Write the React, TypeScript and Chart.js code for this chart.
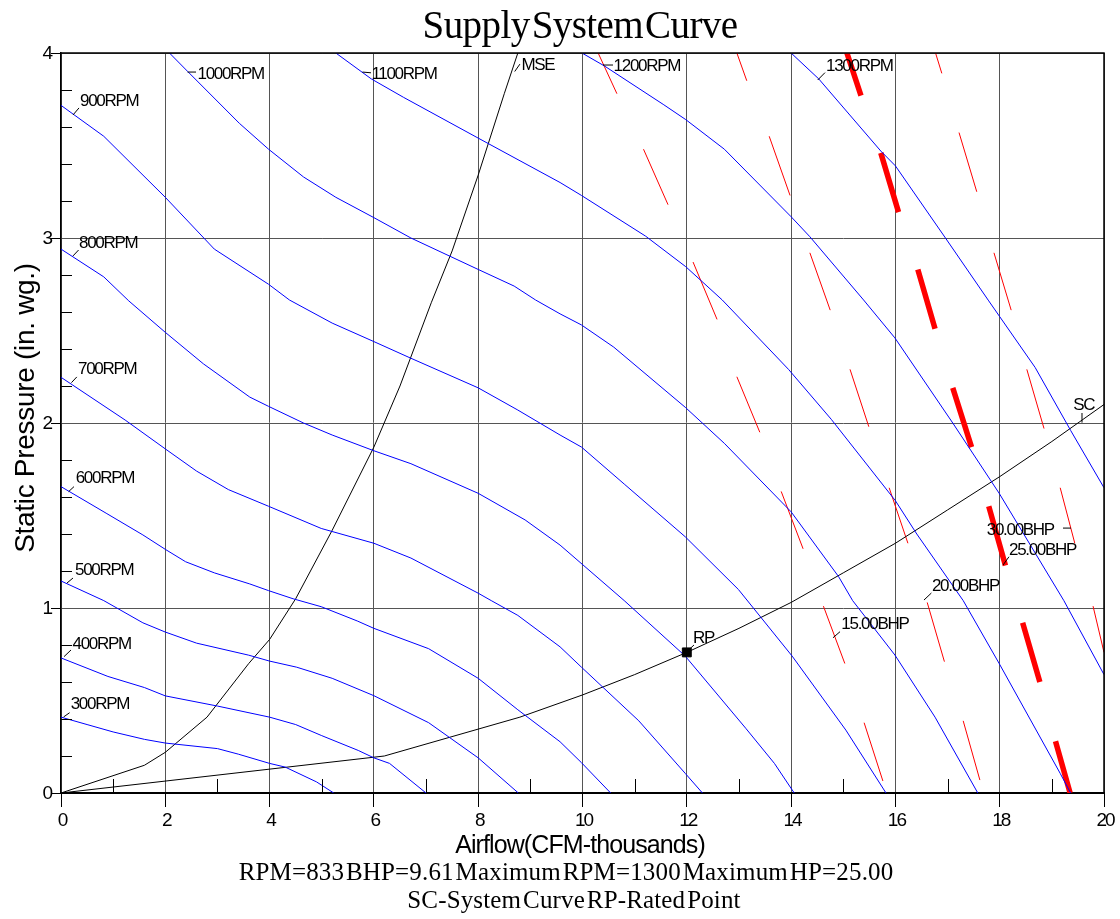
import React, { useEffect, useRef } from 'react';
import { Chart, registerables } from 'chart.js';

Chart.register(...registerables);

type Pt = [number, number];

// ---- axes / ticks ----
const xTickValues = [0, 2, 4, 6, 8, 10, 12, 14, 16, 18, 20];
const xTickLabels = ['0', '2', '4', '6', '8', '10', '12', '14', '16', '18', '20'];
const yTickValues = [0, 1, 2, 3, 4];
const yTickLabels = ['0', '1', '2', '3', '4'];
const xMinorTicks = [1, 3, 5, 7, 9, 11, 13, 15, 17, 19];
const yMinorTicks = [0.2, 0.4, 0.6, 0.8, 1.2, 1.4, 1.6, 1.8, 2.2, 2.4, 2.6, 2.8, 3.2, 3.4, 3.6, 3.8];

// ---- fan curves (Airflow CFM-thousands, Static Pressure in. wg.) ----
const rpm300: Pt[] = [[0, 0.41], [0.5, 0.37], [1, 0.33], [1.6, 0.29], [2, 0.27], [3, 0.24], [3.4, 0.21], [4, 0.16], [4.3, 0.14], [4.9, 0.06], [5.23, 0]];
const rpm400: Pt[] = [[0, 0.73], [0.9, 0.63], [1.6, 0.57], [2, 0.525], [3, 0.47], [4, 0.41], [4.5, 0.37], [5, 0.31], [5.7, 0.23], [6, 0.19], [6.3, 0.16], [7, 0]];
const rpm500: Pt[] = [[0, 1.146], [0.82, 1.04], [1.57, 0.92], [2, 0.87], [2.6, 0.81], [3.6, 0.745], [4, 0.713], [4.52, 0.68], [5.2, 0.62], [6, 0.526], [7.05, 0.38], [8, 0.19], [8.77, 0]];
const rpm600: Pt[] = [[0, 1.656], [0.88, 1.51], [1.57, 1.395], [2, 1.317], [2.39, 1.25], [2.94, 1.19], [3.62, 1.13], [3.98, 1.094], [4.45, 1.05], [4.99, 1.007], [5.68, 0.93], [6, 0.89], [7.05, 0.78], [8, 0.62], [8.76, 0.45], [9.57, 0.277], [9.98, 0.164], [10.54, 0]];
const rpm700: Pt[] = [[0, 2.247], [1.23, 2.016], [2, 1.86], [2.6, 1.74], [3.21, 1.64], [3.98, 1.55], [4.99, 1.43], [6, 1.35], [6.71, 1.27], [8, 1.08], [8.25, 1.04], [8.76, 0.96], [9.57, 0.79], [9.98, 0.68], [11.08, 0.39], [11.97, 0.106], [12.3, 0]];
const rpm800: Pt[] = [[0, 2.94], [0.82, 2.79], [1.3, 2.66], [2, 2.49], [2.73, 2.32], [3.62, 2.14], [3.98, 2.09], [4.65, 2.0], [5.2, 1.935], [6, 1.85], [6.71, 1.78], [8, 1.62], [8.9, 1.476], [9.57, 1.34], [10.8, 1.04], [11.97, 0.74], [13.13, 0.35], [13.68, 0.16], [14.06, 0]];
const rpm900: Pt[] = [[0, 3.717], [0.82, 3.55], [2, 3.22], [2.94, 2.94], [3.98, 2.75], [4.38, 2.665], [5.2, 2.54], [6, 2.44], [6.71, 2.35], [8, 2.19], [8.76, 2.07], [9.57, 1.935], [9.98, 1.87], [10.8, 1.67], [11.97, 1.385], [12.99, 1.1], [14.02, 0.74], [15.05, 0.34], [15.82, 0]];
const rpm1000: Pt[] = [[2.08, 4.0], [2.43, 3.9], [3.42, 3.62], [3.98, 3.48], [4.65, 3.33], [5.27, 3.22], [6, 3.11], [6.71, 3.0], [8, 2.83], [8.69, 2.74], [9.1, 2.665], [9.57, 2.59], [9.98, 2.53], [10.6, 2.41], [11.97, 2.085], [12.72, 1.89], [14, 1.52], [14.91, 1.17], [15.18, 1.04], [15.99, 0.746], [16.76, 0.41], [17.58, 0]];
const rpm1100: Pt[] = [[5.27, 4.0], [5.95, 3.86], [6.57, 3.76], [8, 3.54], [9.57, 3.3], [9.98, 3.23], [11.21, 3.01], [11.98, 2.845], [12.68, 2.665], [13.95, 2.29], [14.77, 2.02], [16, 1.58], [16.41, 1.4], [17.3, 1.04], [17.99, 0.7], [19.16, 0.106], [19.36, 0]];
const rpm1200: Pt[] = [[9.99, 4.0], [10.42, 3.93], [11.56, 3.72], [11.98, 3.64], [12.72, 3.48], [14, 3.115], [14.36, 3.007], [15.39, 2.665], [15.99, 2.46], [17.1, 2.0], [17.99, 1.62], [19.23, 1.04], [20, 0.64]];
const rpm1300: Pt[] = [[14.0, 4.0], [14.53, 3.86], [15.72, 3.47], [16, 3.39], [16.96, 3.0], [17.79, 2.66], [18.0, 2.575], [18.68, 2.3], [19.36, 1.96], [20, 1.65]];
const fanCurves: Pt[][] = [rpm300, rpm400, rpm500, rpm600, rpm700, rpm800, rpm900, rpm1000, rpm1100, rpm1200, rpm1300];

// ---- system curve and max static efficiency ----
const systemCurve: Pt[] = [[0, 0], [6.2, 0.2], [8.8, 0.41], [10, 0.53], [11, 0.64], [12, 0.76], [13, 0.89], [14, 1.03], [15, 1.19], [16, 1.35], [17, 1.53], [18, 1.71], [19, 1.9], [20, 2.1]];
const mseCurve: Pt[] = [[0, 0], [1.6, 0.15], [2, 0.22], [2.8, 0.41], [3.6, 0.7], [4, 0.83], [4.5, 1.05], [5.2, 1.42], [6, 1.87], [6.5, 2.2], [7.1, 2.65], [7.5, 2.93], [8, 3.34], [8.5, 3.78], [8.76, 4.0]];
const ratedPoint: Pt = [12, 0.76];

// ---- brake horsepower lines (visible dash pieces) ----
const bhp15: Pt[][] = [[[10.3, 4.0], [10.66, 3.78]], [[11.17, 3.48], [11.64, 3.18]], [[12.12, 2.87], [12.58, 2.56]], [[12.96, 2.25], [13.4, 1.95]], [[13.81, 1.63], [14.23, 1.32]], [[14.62, 1.01], [15.03, 0.7]], [[15.4, 0.38], [15.76, 0.065]]];
const bhp20: Pt[][] = [[[12.96, 4.0], [13.15, 3.85]], [[13.58, 3.55], [13.98, 3.23]], [[14.36, 2.92], [14.75, 2.61]], [[15.13, 2.29], [15.49, 1.98]], [[15.88, 1.65], [16.24, 1.35]], [[16.61, 1.03], [16.94, 0.71]], [[17.3, 0.39], [17.62, 0.07]]];
const bhp25: Pt[][] = [[[15.07, 4.0], [15.34, 3.77]], [[15.72, 3.46], [16.06, 3.14]], [[16.43, 2.83], [16.76, 2.51]], [[17.1, 2.19], [17.46, 1.87]], [[17.79, 1.55], [18.11, 1.23]], [[18.44, 0.92], [18.77, 0.6]], [[19.07, 0.28], [19.35, 0.0]]];
const bhp30: Pt[][] = [[[16.77, 4.0], [16.89, 3.89]], [[17.22, 3.57], [17.56, 3.25]], [[17.89, 2.92], [18.22, 2.61]], [[18.52, 2.29], [18.85, 1.97]], [[19.16, 1.65], [19.44, 1.35]], [[19.79, 1.01], [20.0, 0.76]]];

// ---- callout labels: anchor on mark, leader end, text start (data units) ----
type Callout = { text: string; anchor: Pt; elbow: Pt; at: Pt };
const callouts: Callout[] = [
  { text: '900RPM', anchor: [0.23, 3.665], elbow: [0.345, 3.703], at: [0.364, 3.741] },
  { text: '800RPM', anchor: [0.23, 2.903], elbow: [0.337, 2.935], at: [0.345, 2.973] },
  { text: '700RPM', anchor: [0.2, 2.218], elbow: [0.303, 2.249], at: [0.326, 2.292] },
  { text: '600RPM', anchor: [0.146, 1.629], elbow: [0.249, 1.656], at: [0.282, 1.703] },
  { text: '500RPM', anchor: [0.115, 1.135], elbow: [0.23, 1.162], at: [0.268, 1.205] },
  { text: '400RPM', anchor: [0.058, 0.737], elbow: [0.192, 0.773], at: [0.22, 0.805] },
  { text: '300RPM', anchor: [0.05, 0.411], elbow: [0.165, 0.434], at: [0.186, 0.481] },
  { text: '1000RPM', anchor: [2.426, 3.897], elbow: [2.589, 3.897], at: [2.617, 3.886] },
  { text: '1100RPM', anchor: [5.78, 3.897], elbow: [5.944, 3.893], at: [5.952, 3.886] },
  { text: 'MSE', anchor: [8.7, 3.9], elbow: [8.8, 3.94], at: [8.828, 3.935] },
  { text: '1200RPM', anchor: [10.393, 3.935], elbow: [10.585, 3.935], at: [10.596, 3.93] },
  { text: '1300RPM', anchor: [14.51, 3.854], elbow: [14.65, 3.894], at: [14.67, 3.93] },
  { text: 'SC', anchor: [19.578, 2.002], elbow: [19.578, 2.054], at: [19.41, 2.097] },
  { text: '30.00BHP', anchor: [19.367, 1.432], elbow: [19.214, 1.432], at: [17.752, 1.422] },
  { text: '25.00BHP', anchor: [18.063, 1.232], elbow: [18.178, 1.277], at: [18.178, 1.314] },
  { text: '20.00BHP', anchor: [16.548, 1.043], elbow: [16.69, 1.081], at: [16.7, 1.119] },
  { text: '15.00BHP', anchor: [14.803, 0.839], elbow: [14.938, 0.872], at: [14.964, 0.914] },
  { text: 'RP', anchor: [12.035, 0.773], elbow: [12.138, 0.8], at: [12.117, 0.838] },
];

const titleText = 'Supply System Curve';
const xTitle = 'Airflow(CFM-thousands)';
const yTitle = 'Static Pressure (in. wg.)';
const footLine1 = 'RPM=833 BHP=9.61 Maximum RPM=1300 Maximum HP=25.00';
const footLine2 = 'SC-System Curve RP-Rated Point';

const SANS = '"Liberation Sans", Arial, sans-serif';
const SERIF = '"Liberation Serif", "Times New Roman", serif';

const toXY = (pts: Pt[]) => pts.map(([x, y]) => ({ x, y }));
const dashesToXY = (segs: Pt[][]) => {
  const out: { x: number; y: number | null }[] = [];
  segs.forEach((s, i) => {
    if (i > 0) out.push({ x: s[0][0], y: null });
    s.forEach(([x, y]) => out.push({ x, y }));
  });
  return out;
};

const lineDs = (data: any[], color: string, width: number) => ({
  data,
  showLine: true,
  borderColor: color,
  backgroundColor: color,
  borderWidth: width,
  pointRadius: 0,
  pointHoverRadius: 0,
  tension: 0,
  spanGaps: false,
  fill: false,
});

const setText = (ctx: CanvasRenderingContext2D, font: string, spacing: string, word = '0px') => {
  ctx.font = font;
  (ctx as any).letterSpacing = spacing;
  (ctx as any).wordSpacing = word;
};

const overlayPlugin = {
  id: 'overlay',
  afterDraw(chart: any) {
    const ctx: CanvasRenderingContext2D = chart.ctx;
    const xs = chart.scales.x;
    const ys = chart.scales.y;
    const { left, right, top, bottom } = chart.chartArea;
    ctx.save();
    ctx.strokeStyle = '#000';
    ctx.lineWidth = 1;
    // minor ticks
    ctx.beginPath();
    xMinorTicks.forEach((v) => {
      const px = Math.round(xs.getPixelForValue(v)) + 0.5;
      ctx.moveTo(px, bottom);
      ctx.lineTo(px, bottom - 14);
    });
    yMinorTicks.forEach((v) => {
      const py = Math.round(ys.getPixelForValue(v)) + 0.5;
      ctx.moveTo(left, py);
      ctx.lineTo(left + 11, py);
    });
    ctx.stroke();
    // frame
    ctx.lineWidth = 1.5;
    ctx.beginPath();
    ctx.moveTo(left, top);
    ctx.lineTo(right, top);
    ctx.lineTo(right, bottom);
    ctx.stroke();

    // callouts
    ctx.lineWidth = 1;
    ctx.fillStyle = '#000';
    setText(ctx, `17px ${SANS}`, '-1.3px');
    ctx.textAlign = 'left';
    ctx.textBaseline = 'middle';
    callouts.forEach((c) => {
      ctx.beginPath();
      ctx.moveTo(xs.getPixelForValue(c.anchor[0]), ys.getPixelForValue(c.anchor[1]));
      ctx.lineTo(xs.getPixelForValue(c.elbow[0]), ys.getPixelForValue(c.elbow[1]));
      ctx.stroke();
      ctx.fillText(c.text, xs.getPixelForValue(c.at[0]), ys.getPixelForValue(c.at[1]));
    });

    // tick labels
    setText(ctx, `19px ${SANS}`, '-2px');
    ctx.textAlign = 'center';
    ctx.textBaseline = 'middle';
    xTickValues.forEach((v, i) => {
      ctx.fillText(xTickLabels[i], xs.getPixelForValue(v) + 1, bottom + 28);
    });
    ctx.textAlign = 'right';
    yTickValues.forEach((v, i) => {
      ctx.fillText(yTickLabels[i], left - 10, ys.getPixelForValue(v) + 1);
    });

    // axis titles
    setText(ctx, `25px ${SANS}`, '-0.9px');
    ctx.textAlign = 'center';
    ctx.textBaseline = 'alphabetic';
    ctx.fillText(xTitle, 580, 853);
    ctx.save();
    ctx.translate(34, 408);
    ctx.rotate(-Math.PI / 2);
    setText(ctx, `28px ${SANS}`, '-0.3px');
    ctx.fillText(yTitle, 0, 0);
    ctx.restore();

    // title + footer
    setText(ctx, `39px ${SERIF}`, '-0.6px', '-7px');
    ctx.textAlign = 'center';
    ctx.fillText(titleText, 580, 38);
    setText(ctx, `25px ${SERIF}`, '0.15px', '-4.5px');
    ctx.fillText(footLine1, 566, 880);
    ctx.fillText(footLine2, 574, 908);
    ctx.restore();
  },
};

export default function App() {
  const ref = useRef<HTMLCanvasElement>(null);
  useEffect(() => {
    if (!ref.current) return;
    const datasets: any[] = [];
    datasets.push({
      ...lineDs([{ x: ratedPoint[0], y: ratedPoint[1] }], '#000', 1),
      showLine: false,
      pointRadius: 6.3,
      pointStyle: 'rect',
      backgroundColor: '#000',
    });
    fanCurves.forEach((c) => datasets.push(lineDs(toXY(c), '#0000ff', 1)));
    datasets.push(lineDs(toXY(systemCurve), '#000', 1));
    datasets.push(lineDs(toXY(mseCurve), '#000', 1));
    datasets.push(lineDs(dashesToXY(bhp15), '#ff0000', 1));
    datasets.push(lineDs(dashesToXY(bhp20), '#ff0000', 1));
    datasets.push(lineDs(dashesToXY(bhp25), '#ff0000', 5.5));
    datasets.push(lineDs(dashesToXY(bhp30), '#ff0000', 1));

    const chart = new Chart(ref.current, {
      type: 'scatter',
      data: { datasets },
      plugins: [overlayPlugin],
      options: {
        animation: false,
        responsive: false,
        devicePixelRatio: 1,
        events: [],
        layout: { padding: { left: 0, top: 53, right: 16, bottom: 0 } },
        plugins: { legend: { display: false }, tooltip: { enabled: false }, title: { display: false } },
        scales: {
          x: {
            type: 'linear',
            min: 0,
            max: 20,
            ticks: { stepSize: 2, display: false },
            grid: { color: '#555', lineWidth: 1, drawTicks: true, tickLength: 14, tickColor: '#000', tickWidth: 1 },
            border: { display: true, color: '#000', width: 2 },
            afterFit: (s: any) => { s.height = 126; },
          },
          y: {
            type: 'linear',
            min: 0,
            max: 4,
            ticks: { stepSize: 1, display: false },
            grid: { color: '#555', lineWidth: 1, drawTicks: true, tickLength: 10, tickColor: '#000', tickWidth: 1 },
            border: { display: true, color: '#000', width: 1.5 },
            afterFit: (s: any) => { s.width = 61; },
          },
        },
      } as any,
    });
    return () => chart.destroy();
  }, []);
  return (
    <div style={{ position: 'fixed', left: 0, top: 0, width: 1120, height: 919, background: '#fff' }}>
      <canvas ref={ref} width={1120} height={919} style={{ display: 'block', width: 1120, height: 919 }} />
    </div>
  );
}
